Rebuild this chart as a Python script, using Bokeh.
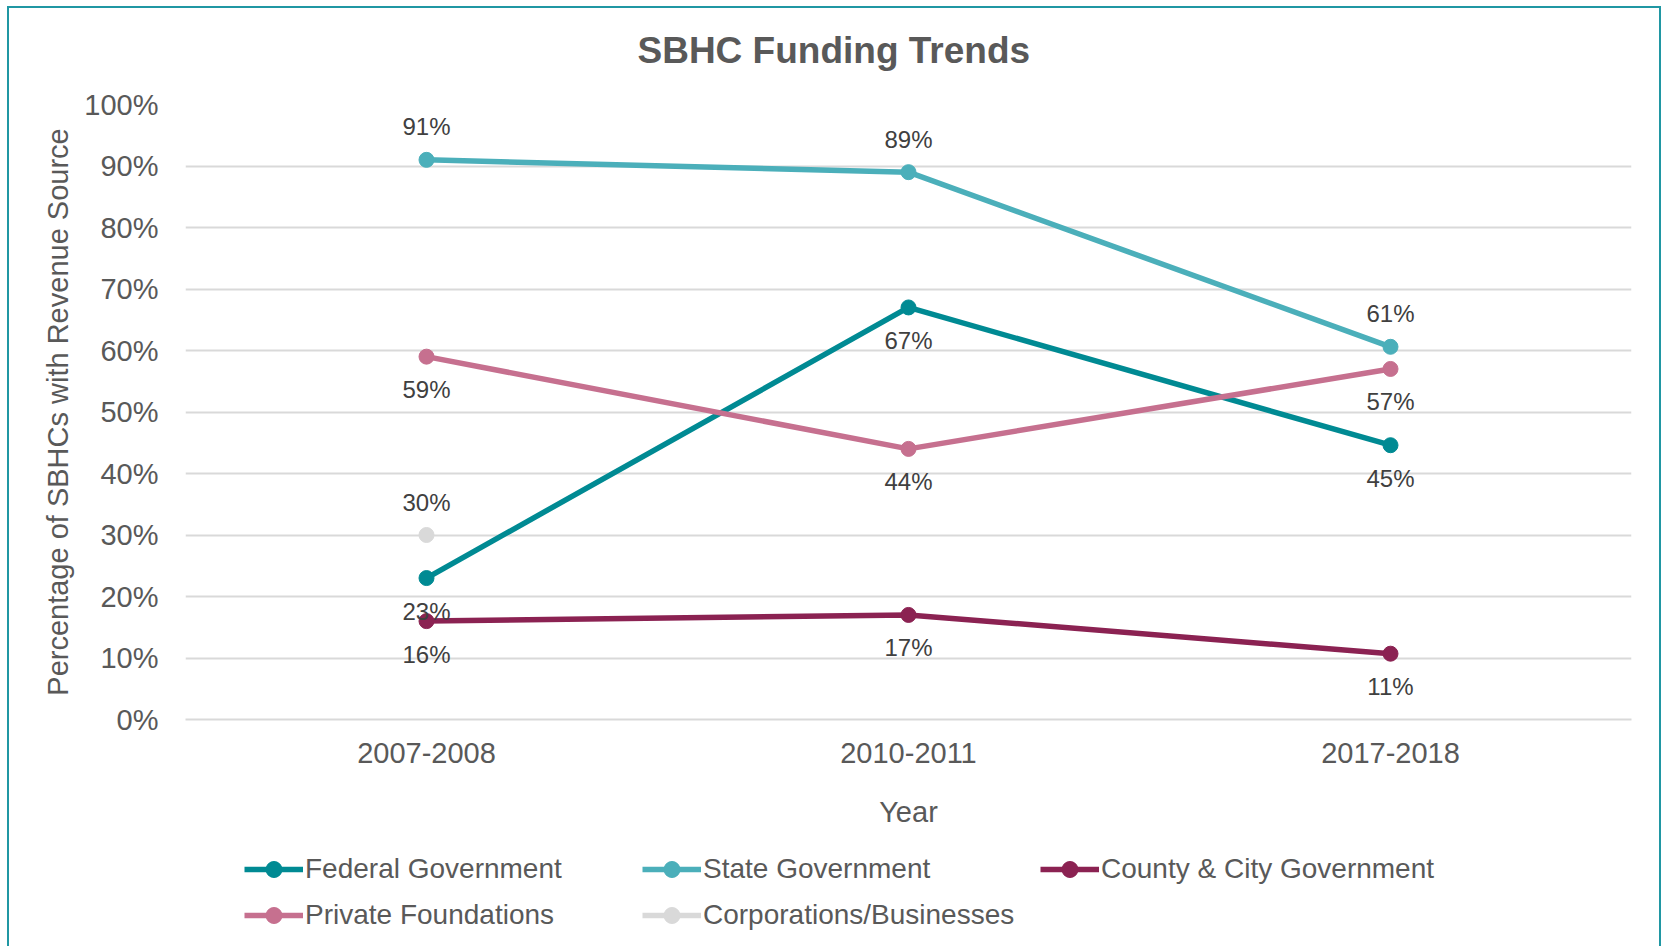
from bokeh.plotting import figure
from bokeh.layouts import column
from bokeh.models import (ColumnDataSource, FactorRange, FixedTicker, NumeralTickFormatter,
                          Legend, LegendItem, Title)
from bokeh.core.properties import value
from bokeh.embed import file_html
from bokeh.resources import INLINE

# ---- data -------------------------------------------------------------
years = ["2007-2008", "2010-2011", "2017-2018"]
federal = [0.23, 0.67, 0.446]
state = [0.91, 0.89, 0.606]
county = [0.16, 0.17, 0.107]
private = [0.59, 0.44, 0.57]
corp_years = ["2007-2008"]
corporations = [0.30]
y_ticks = [0.0, 0.1, 0.2, 0.3, 0.4, 0.5, 0.6, 0.7, 0.8, 0.9, 1.0]

series = [
    ("Federal Government", years, federal, "#008A93", "below"),
    ("State Government", years, state, "#4BAFBA", "above"),
    ("County & City Government", years, county, "#8B2252", "below"),
    ("Private Foundations", years, private, "#C6708F", "below"),
    ("Corporations/Businesses", corp_years, corporations, "#D9D9D9", "above"),
]

FONT = "Liberation Sans"
GREY = "#595959"
LW = 5.5
MS = 15

p = figure(x_range=FactorRange(factors=years), y_range=(0, 1),
           width=1650, height=838, output_backend="svg", toolbar_location=None,
           min_border_left=176, min_border_right=28, min_border_top=96,
           min_border_bottom=127, title="SBHC Funding Trends")
p.outline_line_color = None
p.background_fill_color = "white"
p.border_fill_color = "white"

p.title.align = "left"
p.title.offset = 452
p.title.standoff = 36
p.title.text_font = FONT
p.title.text_font_size = "37px"
p.title.text_font_style = "bold"
p.title.text_color = GREY
# small blank spacer between title and plot area
p.add_layout(Title(text=" ", text_font_size="2px", standoff=12), "above")

# y axis
p.yaxis.ticker = FixedTicker(ticks=y_ticks)
p.yaxis.formatter = NumeralTickFormatter(format="0%")
p.yaxis.axis_line_color = None
p.yaxis.major_tick_line_color = None
p.yaxis.minor_tick_line_color = None
p.yaxis.major_label_standoff = 21
p.yaxis.axis_label = "Percentage of SBHCs with Revenue Source"
p.yaxis.axis_label_standoff = 7

# x axis
p.xaxis.axis_line_color = "#D9D9D9"
p.xaxis.axis_line_width = 2
p.xaxis.major_tick_line_color = None
p.xaxis.minor_tick_line_color = None
p.xaxis.major_label_standoff = 17
p.xaxis.axis_label = "Year"
p.xaxis.axis_label_standoff = 30

for ax in (p.xaxis, p.yaxis):
    ax.major_label_text_font = FONT
    ax.major_label_text_font_size = "29px"
    ax.major_label_text_color = GREY
    ax.axis_label_text_font = FONT
    ax.axis_label_text_font_size = "29px"
    ax.axis_label_text_font_style = "normal"
    ax.axis_label_text_color = GREY

p.xgrid.grid_line_color = None
p.ygrid.grid_line_color = "#D9D9D9"
p.ygrid.grid_line_width = 2

label_sources = []
for name, xs, vals, color, pos in series:
    labels = [f"{round(v * 100)}%" for v in vals]
    off = -33 if pos == "above" else 33
    src = ColumnDataSource(dict(x=xs, y=vals, label=labels, yoff=[off] * len(vals)))
    p.line("x", "y", source=src, line_width=LW, line_color=color)
    p.scatter("x", "y", source=src, size=MS, fill_color=color, line_color=color)
    label_sources.append(src)

for src in label_sources:
    p.text("x", "y", text="label", source=src, y_offset="yoff",
           text_align="center", text_baseline="middle",
           text_font=value(FONT), text_font_size="24px", text_color="#404040")

# ---- legend strip (series drawn out of view, only the legend shows) -----
pl = figure(width=1650, height=100, output_backend="svg", toolbar_location=None,
            x_range=FactorRange(factors=years), y_range=(5, 6),
            x_axis_type=None, y_axis_type=None, min_border=0)
pl.outline_line_color = None
pl.xgrid.grid_line_color = None
pl.ygrid.grid_line_color = None
pl.background_fill_color = "white"
pl.border_fill_color = "white"

items = []
for name, xs, vals, color, pos in series:
    r_line = pl.line(x=xs, y=vals, line_width=LW, line_color=color)
    r_pt = pl.scatter(x=xs, y=vals, size=MS, fill_color=color, line_color=color)
    items.append(LegendItem(label=name, renderers=[r_line, r_pt]))

legend = Legend(items=items, location=(59, 11), orientation="horizontal", ncols=3,
                glyph_width=59, glyph_height=40, label_height=40, label_width=331,
                label_standoff=2, spacing=6, padding=0, margin=0,
                border_line_color=None, background_fill_alpha=0,
                label_text_font=FONT, label_text_font_size="28px",
                label_text_color=GREY)
pl.add_layout(legend)

layout = column(p, pl, spacing=0)
layout.styles = {"margin-left": "7px", "margin-top": "6px",
                 "border-top": "2px solid #2097A3", "border-left": "2px solid #2097A3",
                 "border-right": "2px solid #2097A3"}

open("out.html", "w").write(file_html(layout, INLINE))
